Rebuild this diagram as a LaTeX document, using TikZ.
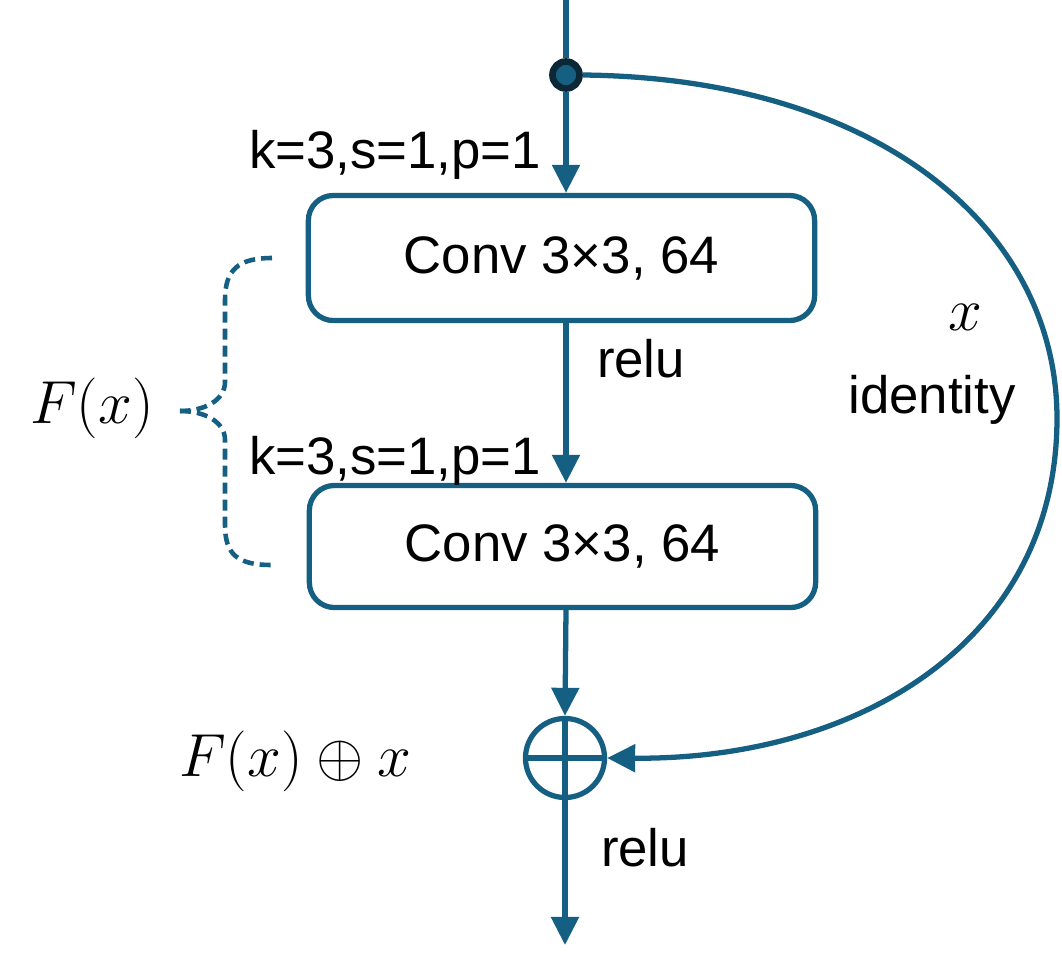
\documentclass[tikz,border=0pt]{standalone}
\usepackage{fontspec}
\setmainfont{Liberation Sans}
\usetikzlibrary{arrows.meta}
\definecolor{acc}{RGB}{21,96,130}
\definecolor{dotring}{RGB}{12,40,55}
\tikzset{
  conn/.style={draw=acc, line width=1.5pt},
  arr/.style={conn, -{Triangle[length=0.28cm,width=0.27cm]}},
  convbox/.style={draw=acc, line width=1.5pt, rounded corners=0.25cm, minimum width=5.06cm, minimum height=1.25cm, inner sep=0pt, font=\fontsize{15}{18}\selectfont},
  lbl/.style={font=\fontsize{15}{18}\selectfont, inner sep=0pt, anchor=base},
  mlbl/.style={font=\fontsize{16}{19}\selectfont, inner sep=0pt, anchor=base},
  brace/.style={draw=acc, line width=1.3pt, dash pattern=on 0.11cm off 0.06cm}
}
\begin{document}
\begin{tikzpicture}[x=0.01cm,y=-0.01cm]
\useasboundingbox (0,0) rectangle (1062,978);
% nodes
\coordinate (top) at (566,0);
\node[circle, draw=dotring, fill=acc, line width=1.9pt, minimum size=0.27cm, inner sep=0pt] (dot) at (566,75) {};
\node[convbox] (c1) at (561.5,258) {Conv 3×3, 64};
\node[convbox, minimum height=1.22cm] (c2) at (562.5,546.5) {Conv 3×3, 64};
\node[circle, draw=acc, line width=1.5pt, minimum size=0.79cm, inner sep=0pt] (plus) at (565,758) {};
\coordinate (out) at (565,945);
% connectors
\draw[conn] (top) -- (dot.north);
\draw[arr] (dot.south) -- (c1.north -| dot);
\draw[arr] (c1.south -| dot) -- (c2.north -| dot);
\draw[arr] (c2.south -| dot) -- (plus.north);
\draw[conn] (plus.north) -- (plus.south);
\draw[conn] (plus.west) -- (plus.east);
\draw[arr] (plus.south) -- (out);
\draw[arr] (dot.east) .. controls (880,78) and (1058,230) .. (1057,420)
  .. controls (1056,640) and (860,760) .. (plus.east);
% brace
\draw[brace] (272,258) .. controls (238,258) and (225,270) .. (225,300) -- (225,382)
  .. controls (225,400) and (205,411) .. (180,411);
\draw[brace] (180,411) .. controls (205,411) and (225,422) .. (225,440) -- (225,525)
  .. controls (225,555) and (238,565) .. (272,565);
% labels
\node[lbl] (k1) at (395,168) {k=3,s=1,p=1};
\node[lbl] (r1) at (641,377) {relu};
\node[lbl] (k2) at (395,474) {k=3,s=1,p=1};
\node[lbl] (r2) at (645,866) {relu};
\node[lbl] (id) at (932,413) {identity};
\node[mlbl] (xl) at (965,330) {$x$};
\node[mlbl] (fx) at (92,423) {$F(x)$};
\node[mlbl] (fsum) at (295,776) {$F(x)\oplus x$};
\end{tikzpicture}
\end{document}
